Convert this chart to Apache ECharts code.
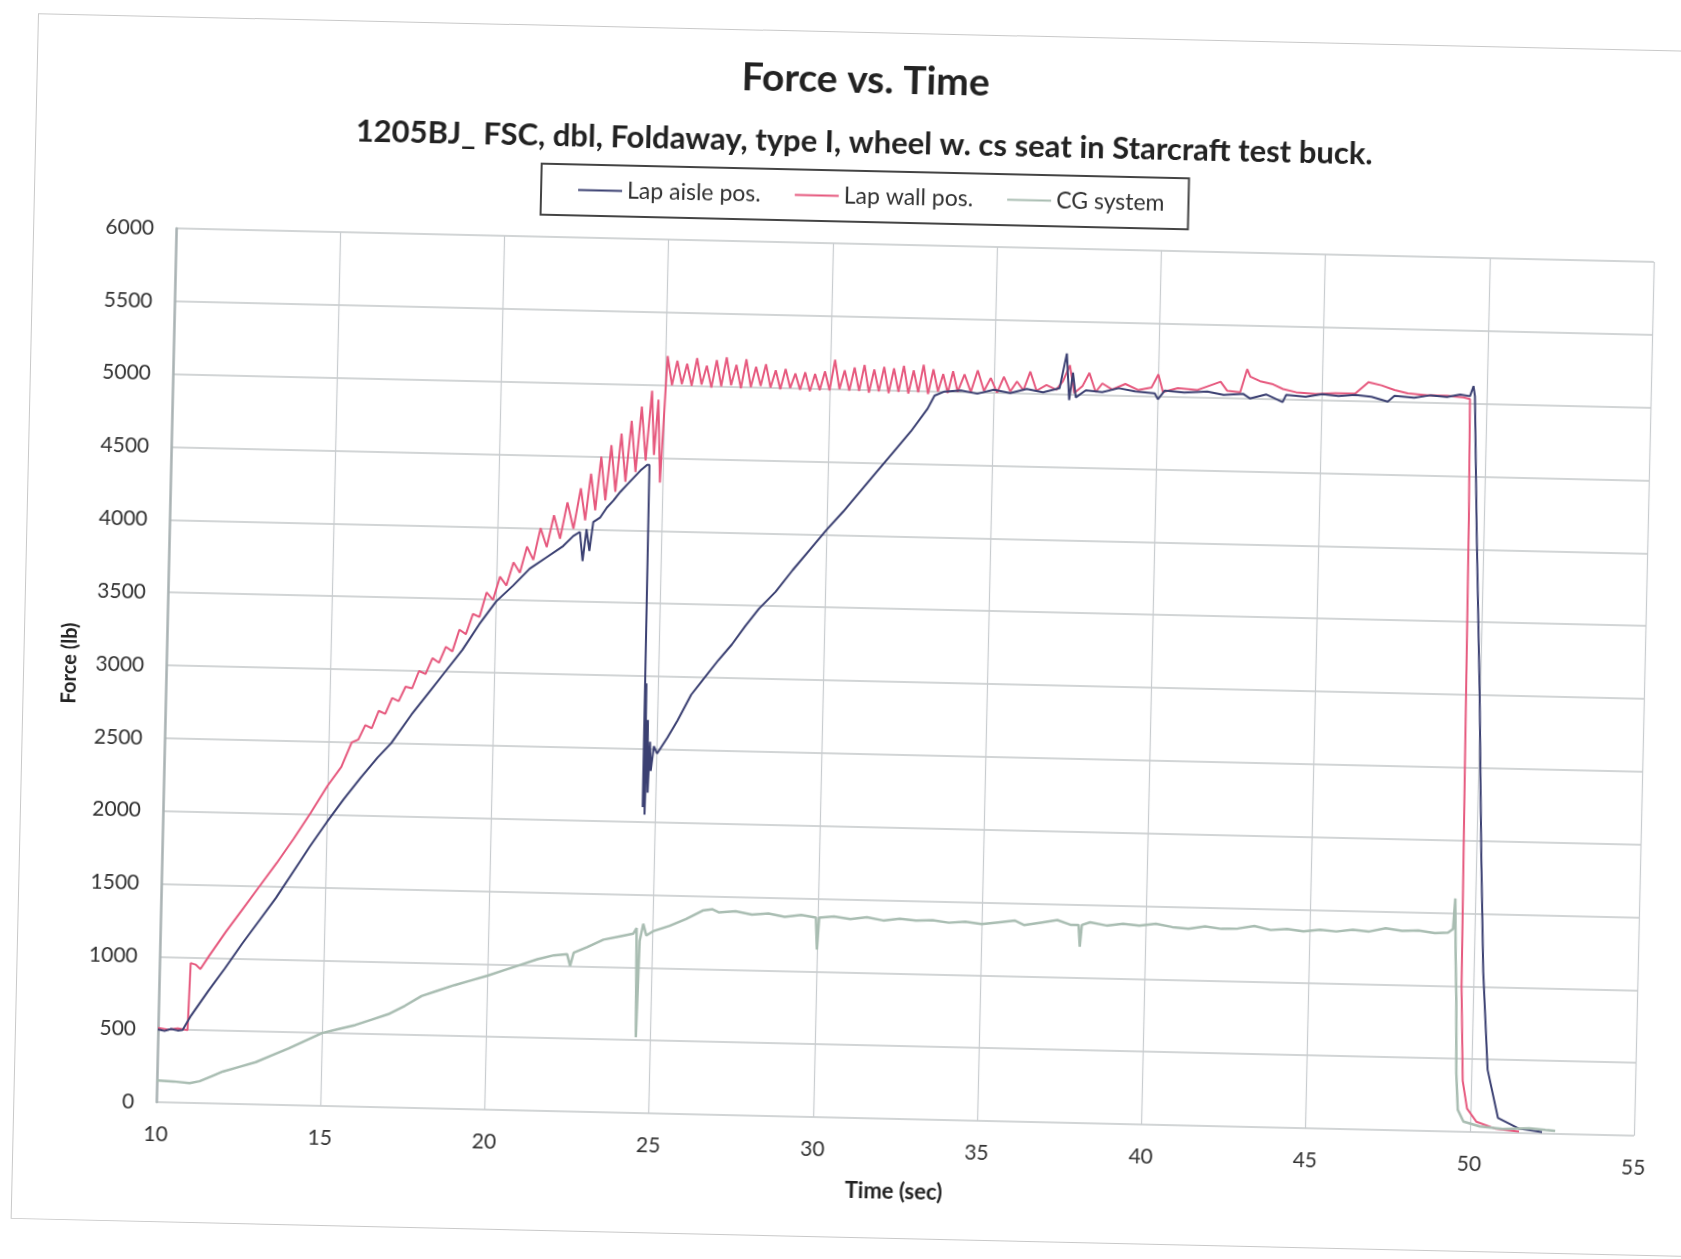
<!DOCTYPE html>
<html>
<head>
<meta charset="utf-8">
<title>Force vs. Time</title>
<script src="https://cdn.jsdelivr.net/npm/echarts@6/dist/echarts.min.js"></script>
<style>
  html, body { margin: 0; padding: 0; background: #fff; overflow: hidden; }
  #page {
    position: absolute; left: 0; top: 0; width: 1681px; height: 1259px;
    transform-origin: 904px 684px; transform: rotate(1.3deg);
  }
  .paper {
    position: absolute; left: 23px; top: 33px; width: 1800px; height: 1204px;
    border: 1px solid #c9c9c9;
  }
  #chart { position: absolute; left: 0; top: 0; width: 1681px; height: 1259px; }
</style>
</head>
<body>
<div id="page">
  <div class="paper"></div>
  <div id="chart"></div>
</div>
<script>
// scanned chart: Force vs. Time, three load traces (time sec, force lb)
const seriesNames = ['Lap aisle pos.', 'Lap wall pos.', 'CG system'];
const xTicks = { min: 10, max: 55, step: 5 };
const yTicks = { min: 0, max: 6000, step: 500 };

const lapAisle = [
  [10.0,500],[10.2,490],[10.4,505],[10.6,495],[10.75,500],
  [11.0,600],[11.5,770],[12.0,930],[12.5,1100],[13.0,1260],[13.5,1420],[14.0,1600],
  [14.5,1780],[15.0,1950],[15.5,2110],[16.0,2260],[16.5,2400],[16.9,2500],[17.5,2700],
  [18.0,2850],[18.5,3000],[19.0,3150],[19.5,3330],[20.0,3490],[20.5,3600],[21.0,3720],
  [21.5,3800],[22.0,3880],[22.3,3950],[22.5,3980],[22.6,3780],[22.7,4000],[22.8,3850],
  [22.9,4050],[23.1,4080],[23.3,4150],[23.5,4200],[23.7,4260],[23.9,4310],[24.1,4360],
  [24.3,4410],[24.5,4450],
  [24.57,4450],[24.6,2100],[24.63,2950],[24.66,2050],[24.7,2700],[24.74,2200],
  [24.78,2550],[24.82,2350],[24.9,2520],[25.0,2470],
  [25.3,2580],[25.6,2700],[26.0,2880],[26.3,2970],[26.8,3120],[27.2,3230],[27.6,3360],
  [28.0,3480],[28.5,3600],[29.0,3750],[29.5,3890],[30.0,4030],[30.5,4160],[31.0,4300],
  [31.5,4440],[32.0,4580],[32.5,4720],[33.0,4880],[33.2,4970],[33.5,5000],
  [34.0,5010],[34.5,4990],[35.0,5020],[35.5,5000],[36.0,5030],[36.5,5010],[37.0,5040],
  [37.2,5280],[37.3,4960],[37.4,5150],[37.5,4980],[37.8,5030],[38.3,5020],[38.8,5050],
  [39.3,5030],[39.9,5020],[40.0,4980],[40.2,5040],[40.8,5030],[41.5,5040],[42.0,5020],
  [42.6,5030],[42.8,5000],[43.3,5030],[43.8,4980],[43.9,5030],[44.5,5020],[45.0,5040],
  [45.5,5030],[46.0,5040],[46.5,5030],[47.0,5000],[47.2,5040],[47.8,5030],[48.3,5050],
  [48.8,5040],[49.2,5060],[49.5,5050],[49.6,5120],
  [49.65,5050],[49.8,4100],[50.0,3000],[50.16,1900],[50.3,1100],[50.5,430],[50.85,100],
  [51.5,30],[52.2,10]
];

const lapWall = [
  [10.0,510],[10.3,500],[10.6,510],[10.9,500],[10.95,960],[11.1,950],[11.25,920],
  [11.5,1010],[12.0,1180],[12.5,1340],[13.0,1500],[13.5,1660],[14.0,1830],[14.5,2010],
  [15.0,2200],[15.4,2330],[15.7,2500],[15.9,2520],[16.1,2620],[16.3,2600],[16.5,2720],
  [16.7,2700],[16.9,2810],[17.1,2790],[17.3,2890],[17.5,2880],[17.7,3000],[17.9,2980],
  [18.1,3090],[18.3,3060],[18.5,3170],[18.7,3140],[18.9,3290],[19.1,3260],[19.3,3400],
  [19.5,3380],[19.7,3550],[19.9,3500],[20.1,3660],[20.3,3600],[20.5,3760],[20.7,3690],
  [20.9,3870],[21.1,3780],[21.3,4000],[21.5,3870],[21.7,4090],[21.9,3930],[22.1,4180],
  [22.3,4000],[22.5,4280],[22.65,4060],[22.8,4380],[22.95,4130],[23.1,4500],[23.25,4200],
  [23.4,4580],[23.55,4260],[23.7,4660],[23.85,4330],[24.0,4750],[24.15,4400],[24.3,4850],
  [24.45,4480],[24.6,4960],[24.7,4520],[24.8,4900],[24.9,4330],[25.05,5200],
  [25.2,5000],[25.35,5170],[25.5,5010],[25.65,5150],[25.8,5000],[25.95,5190],[26.1,5010],
  [26.25,5140],[26.4,4990],[26.55,5180],[26.7,5000],[26.85,5200],[27.0,5010],[27.15,5150],
  [27.3,4990],[27.45,5190],[27.6,5000],[27.75,5140],[27.9,5010],[28.05,5160],[28.2,5000],
  [28.35,5120],[28.5,4990],[28.65,5130],[28.8,5000],[28.95,5100],[29.1,4990],[29.25,5110],
  [29.4,4980],[29.55,5100],[29.7,4990],[29.85,5120],[30.0,4990],[30.15,5200],[30.3,5000],
  [30.45,5130],[30.6,4990],[30.75,5150],[30.9,4990],[31.05,5170],[31.2,4980],[31.35,5140],
  [31.5,4990],[31.65,5160],[31.8,4980],[31.95,5150],[32.1,4990],[32.25,5170],[32.4,4980],
  [32.55,5140],[32.7,4990],[32.85,5180],[33.0,4980],[33.15,5150],[33.3,5000],[33.45,5120],
  [33.6,4990],[33.75,5140],[33.9,5000],[34.1,5120],[34.3,5000],[34.5,5150],[34.7,5010],
  [34.9,5100],[35.1,5000],[35.3,5110],[35.5,5010],[35.7,5080],[35.9,5020],[36.1,5150],
  [36.3,5020],[36.6,5060],[36.9,5030],[37.1,5090],[37.3,5200],[37.45,5010],[37.7,5060],
  [37.9,5150],[38.1,5020],[38.3,5080],[38.6,5040],[39.0,5080],[39.4,5040],[39.8,5060],
  [40.0,5150],[40.15,5030],[40.6,5060],[41.2,5050],[41.9,5110],[42.1,5050],[42.5,5040],
  [42.7,5200],[42.8,5150],[43.1,5120],[43.5,5100],[43.8,5070],[44.2,5050],[44.8,5040],
  [45.4,5050],[46.0,5050],[46.4,5130],[46.8,5110],[47.2,5080],[47.6,5060],[48.2,5050],
  [48.8,5050],[49.3,5040],[49.5,5030],
  [49.55,4200],[49.6,2500],[49.65,1000],[49.75,350],[49.9,160],[50.2,70],[50.8,25],[51.5,10]
];

const cgSystem = [
  [10.0,150],[10.5,145],[11.0,135],[11.3,150],[11.7,190],[12.0,220],[12.5,255],[13.0,290],
  [13.5,340],[14.0,390],[14.5,445],[15.0,500],[15.5,530],[16.0,560],[16.5,600],[17.0,640],
  [17.5,700],[18.0,770],[18.5,810],[19.0,850],[19.5,885],[20.0,920],[20.5,960],[21.0,1000],
  [21.5,1040],[22.0,1070],[22.4,1080],[22.5,1000],[22.6,1090],[23.0,1130],[23.5,1185],
  [24.0,1210],[24.4,1230],[24.5,1270],[24.55,520],[24.6,1180],[24.7,1300],[24.8,1220],
  [25.0,1250],[25.5,1290],[26.0,1340],[26.5,1400],[26.8,1410],[27.0,1390],[27.5,1400],
  [28.0,1380],[28.5,1390],[29.0,1370],[29.5,1385],[29.95,1370],[30.0,1150],[30.05,1370],
  [30.5,1380],[31.0,1365],[31.5,1380],[32.0,1360],[32.5,1375],[33.0,1365],[33.5,1370],
  [34.0,1355],[34.5,1365],[35.0,1350],[35.5,1365],[36.0,1380],[36.3,1350],[36.8,1370],
  [37.3,1390],[37.7,1360],[37.95,1360],[38.0,1210],[38.05,1360],[38.3,1380],[38.8,1360],
  [39.3,1375],[39.8,1365],[40.3,1380],[40.8,1360],[41.3,1350],[41.8,1370],[42.3,1355],
  [42.8,1360],[43.3,1380],[43.8,1355],[44.3,1365],[44.8,1350],[45.3,1365],[45.8,1355],
  [46.3,1370],[46.8,1360],[47.3,1385],[47.8,1370],[48.3,1375],[48.8,1360],[49.2,1365],
  [49.35,1390],[49.4,1600],[49.45,1200],[49.5,900],[49.55,400],[49.62,150],[49.8,70],
  [50.3,40],[51.0,25],[51.8,35],[52.3,25],[52.6,20]
];

const colors = ['#3b4072', '#e6597e', '#a9bdb2'];
const font = 'Lato, "Open Sans", sans-serif';

const chart = echarts.init(document.getElementById('chart'), null, { renderer: 'canvas' });

chart.setOption({
  animation: false,
  backgroundColor: 'transparent',
  textStyle: { fontFamily: font },
  graphic: [
    {
      type: 'text', x: 852, y: 81,
      style: {
        text: 'Force vs. Time', fill: '#222', font: 'bold 39px ' + font,
        textAlign: 'center', textVerticalAlign: 'middle'
      }
    },
    {
      type: 'text', x: 852, y: 144,
      style: {
        text: '1205BJ_ FSC, dbl, Foldaway, type I, wheel w. cs seat in Starcraft test buck.',
        fill: '#222', font: 'bold 31px ' + font,
        textAlign: 'center', textVerticalAlign: 'middle'
      }
    }
  ],
  legend: {
    left: 530, top: 172,
    padding: [14, 24, 14, 37],
    itemGap: 34, itemWidth: 44, itemHeight: 2,
    borderColor: '#444', borderWidth: 2,
    textStyle: { fontSize: 23, color: '#333', fontFamily: font },
    data: seriesNames.map(n => ({ name: n, icon: 'rect' }))
  },
  grid: { left: 166, right: 37, top: 245, bottom: 140 },
  xAxis: {
    type: 'value',
    min: xTicks.min, max: xTicks.max, interval: xTicks.step,
    name: 'Time (sec)', nameLocation: 'middle', nameGap: 62,
    nameTextStyle: { fontSize: 22, fontWeight: 'bold', color: '#222', fontFamily: font },
    axisLine: { show: false },
    axisTick: { show: false },
    axisLabel: { fontSize: 21, color: '#333', margin: 22, fontFamily: font },
    splitLine: { show: true, lineStyle: { color: '#c8cccf', width: 1.2 } }
  },
  yAxis: {
    type: 'value',
    min: yTicks.min, max: yTicks.max, interval: yTicks.step,
    name: 'Force (lb)', nameLocation: 'middle', nameGap: 86,
    nameTextStyle: { fontSize: 20, fontWeight: 'bold', color: '#222', fontFamily: font },
    axisLine: { show: true, lineStyle: { color: '#a9b2b3', width: 2.5 } },
    axisTick: { show: false },
    axisLabel: { fontSize: 21, color: '#333', margin: 22, fontFamily: font, formatter: v => String(v) },
    splitLine: { show: true, lineStyle: { color: '#c3c7c9', width: 1.5 } }
  },
  series: [
    { name: seriesNames[0], data: lapAisle, z: 4 },
    { name: seriesNames[1], data: lapWall, z: 3 },
    { name: seriesNames[2], data: cgSystem, z: 5 }
  ].map((s, i) => Object.assign({
    type: 'line',
    showSymbol: false,
    symbol: 'none',
    color: colors[i],
    lineStyle: { width: i === 2 ? 2.5 : 2, color: colors[i] },
    emphasis: { disabled: true }
  }, s))
});
</script>
</body>
</html>
